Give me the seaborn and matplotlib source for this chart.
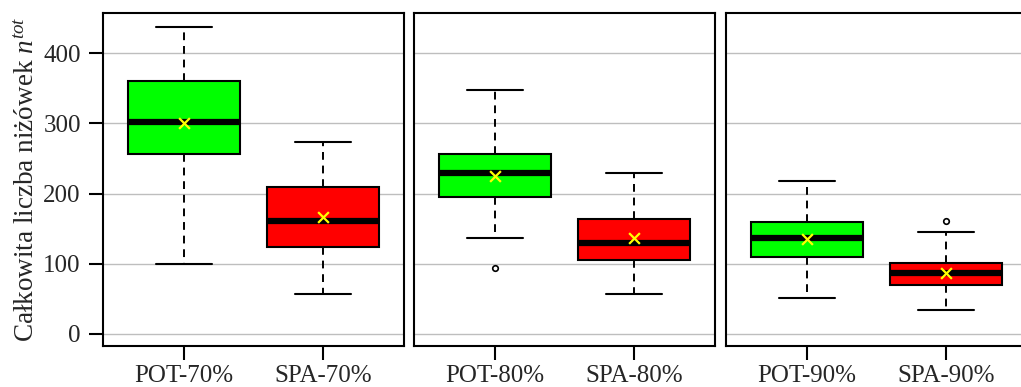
import matplotlib
matplotlib.use("Agg")
import matplotlib.pyplot as plt
import seaborn as sns
import pandas as pd

# ---- data ----
categories = ["POT-70%", "SPA-70%", "POT-80%", "SPA-80%", "POT-90%", "SPA-90%"]
whisker_low = [99.5, 56, 136, 57, 51, 34]
q1 = [256, 124, 195, 105, 109.5, 69]
median = [302, 161, 230, 130, 137, 87]
q3 = [361, 209, 256, 163, 160, 100.5]
whisker_high = [438, 274, 348, 229, 218, 145]
means = [301, 166, 225, 137, 135, 87]
outliers = [[], [], [94], [], [], [161]]
box_colors = ["#00FF00", "#FF0000", "#00FF00", "#FF0000", "#00FF00", "#FF0000"]
y_ticks = [0, 100, 200, 300, 400]
ylabel = "Całkowita liczba niżówek $n^{tot}$"

sns.set_theme(style="white")
plt.rcParams["font.family"] = ["Liberation Serif", "DejaVu Serif"]
plt.rcParams["mathtext.fontset"] = "custom"
plt.rcParams["mathtext.rm"] = "Liberation Serif"
plt.rcParams["mathtext.it"] = "Liberation Serif:italic"

fig = plt.figure(figsize=(10.21, 3.87), dpi=100)
bottom, top = 0.1059, 0.9664
lefts = [103 / 1021, 414 / 1021, 726 / 1021]
width = 301 / 1021
axes = [fig.add_axes([l, bottom, width, top - bottom]) for l in lefts]

for p, ax in enumerate(axes):
    idx = [2 * p, 2 * p + 1]
    stats = []
    for i in idx:
        stats.append(dict(whislo=whisker_low[i], q1=q1[i], med=median[i], q3=q3[i],
                          whishi=whisker_high[i], fliers=outliers[i], label=categories[i]))
    bp = ax.bxp(stats, positions=[1, 2], widths=0.8, capwidths=0.4, patch_artist=True,
                boxprops=dict(edgecolor="black", linewidth=1.5),
                medianprops=dict(color="black", linewidth=4.5, solid_capstyle="butt"),
                whiskerprops=dict(color="black", linewidth=1.4, linestyle=(0, (4, 3))),
                capprops=dict(color="black", linewidth=1.5),
                flierprops=dict(marker="o", markersize=4, markerfacecolor="white",
                                markeredgecolor="black", markeredgewidth=1.2))
    for patch, i in zip(bp["boxes"], idx):
        patch.set_facecolor(box_colors[i])
    df = pd.DataFrame({"x": [1, 2], "y": [means[i] for i in idx]})
    sns.scatterplot(data=df, x="x", y="y", ax=ax, marker="x", color="#FFFF00",
                    s=60, linewidth=1.6, zorder=5, legend=False)
    ax.set_xlim(0.42, 2.58)
    ax.set_ylim(-17.6, 457.6)
    ax.set_xticks([1, 2])
    ax.set_xticklabels([categories[i] for i in idx])
    ax.set_yticks(y_ticks)
    ax.set_axisbelow(True)
    ax.yaxis.grid(True, color="#BEBEBE", linewidth=1.0)
    ax.xaxis.grid(False)
    ax.set_xlabel("")
    ax.set_ylabel("")
    for s in ax.spines.values():
        s.set_visible(True)
        s.set_color("black")
        s.set_linewidth(1.5)
    ax.tick_params(axis="x", direction="out", length=10, width=1.5, color="black",
                   labelsize=18, pad=4, bottom=True)
    if p == 0:
        ax.tick_params(axis="y", direction="out", length=10, width=1.5, color="black",
                       labelsize=18, pad=6, left=True)
        ax.set_ylabel(ylabel, fontsize=19.5)
        ax.yaxis.set_label_coords(-0.21, 0.5)
    else:
        ax.tick_params(axis="y", left=False, labelleft=False)

fig.savefig("out.png", dpi=100)
